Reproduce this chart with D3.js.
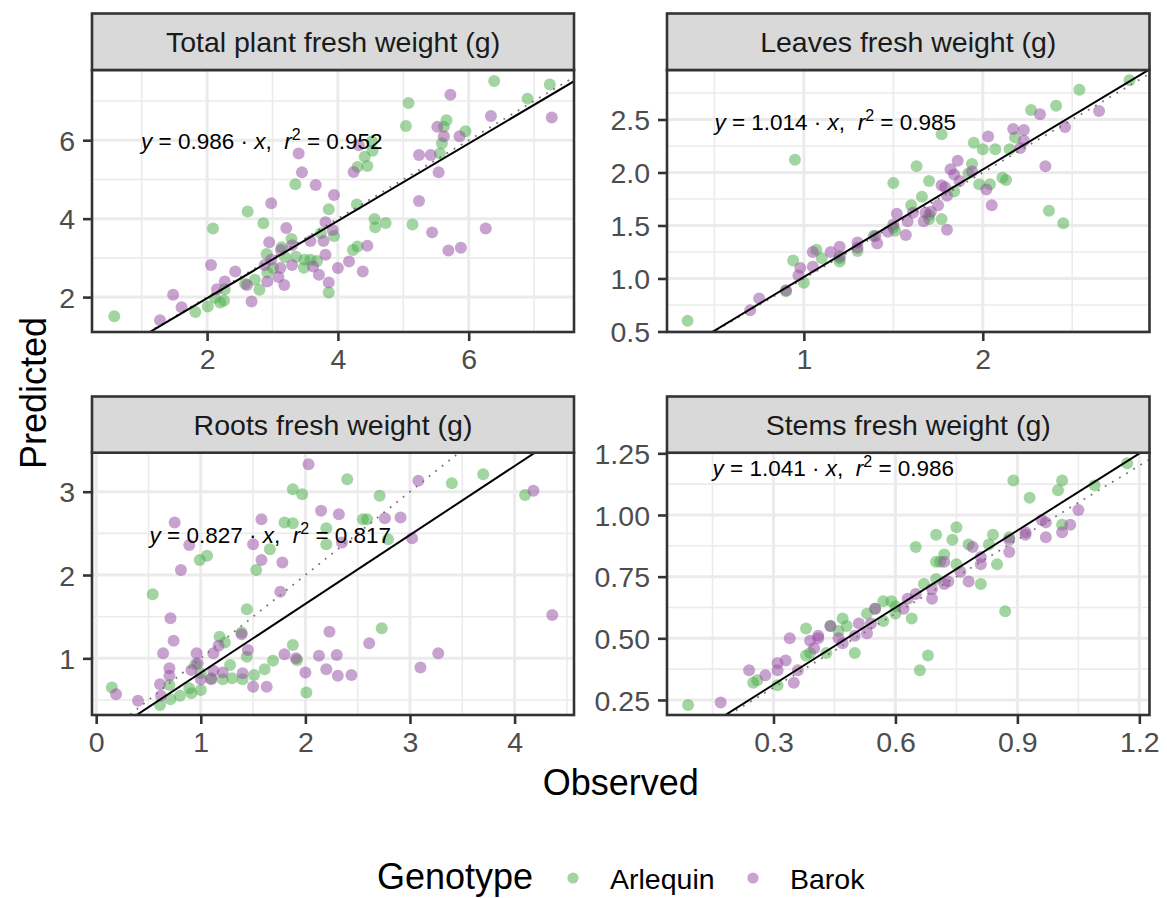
<!DOCTYPE html>
<html><head><meta charset="utf-8">
<script src="https://cdn.jsdelivr.net/npm/d3@7"></script>
<style>
body{margin:0;background:#fff}
svg{display:block}
text{font-family:"Liberation Sans",Arial,Helvetica,sans-serif}
</style>
</head><body>
<svg id="chart" width="1167" height="898"></svg>
<script>
// ---------------- data ----------------
const panelTitles = ["Total plant fresh weight (g)", "Leaves fresh weight (g)", "Roots fresh weight (g)", "Stems fresh weight (g)"];
const genotypes = ["Arlequin", "Barok"];
const slopes = [0.986, 1.014, 0.827, 1.041];
const rSquared = [0.952, 0.985, 0.817, 0.986];

// [observed, predicted]
const totalArlequin = [[0.58,1.51],[6.39,7.51],[6.90,7.06],[7.24,7.42],[5.08,6.95],[5.04,6.36],[5.66,6.51],[5.62,6.34],[5.95,6.23],[5.59,5.92],[5.56,5.66],[4.52,5.97],[4.41,5.58],[4.53,5.73],[4.30,5.32],[4.45,5.34],[3.35,4.88],[2.62,4.18],[2.86,3.88],[2.09,3.75],[3.86,4.24],[4.29,4.36],[4.56,3.99],[4.57,3.78],[4.73,3.89],[5.14,3.85],[3.94,3.56],[3.74,3.63],[3.29,3.48],[3.14,3.27],[2.91,3.10],[3.19,3.02],[3.36,3.03],[3.49,2.95],[3.58,2.95],[3.68,2.92],[3.48,2.75],[4.23,3.20],[4.30,3.29],[3.86,2.12],[2.73,2.44],[2.80,2.19],[2.92,2.63],[2.27,2.20],[2.12,1.98],[2.20,1.86],[2.26,1.91],[2.01,1.76],[1.82,1.62],[2.58,2.34],[3.01,2.74]];
const totalBarok = [[5.72,7.16],[6.34,6.62],[5.52,6.34],[5.62,6.10],[5.86,6.10],[4.32,5.87],[5.24,5.62],[5.42,5.62],[5.54,5.18],[3.40,5.66],[3.45,5.18],[4.24,5.19],[3.66,4.86],[3.94,4.60],[5.24,4.45],[2.98,4.39],[5.44,3.65],[6.26,3.75],[5.69,3.19],[5.88,3.26],[3.21,3.76],[3.81,3.91],[3.92,3.71],[3.58,3.43],[3.78,3.43],[2.95,3.40],[3.30,3.32],[4.45,3.31],[3.81,3.08],[4.17,2.91],[4.00,2.74],[4.38,2.65],[3.13,3.20],[2.98,2.95],[2.88,2.82],[3.12,2.74],[3.30,2.82],[3.62,2.78],[3.71,2.57],[3.09,2.51],[2.92,2.40],[3.18,2.31],[3.86,2.37],[2.61,2.31],[2.43,2.65],[2.27,2.40],[2.15,2.20],[2.06,2.82],[2.68,1.89],[1.48,2.06],[1.61,1.74],[1.28,1.41],[7.27,6.58]];

const leavesArlequin = [[0.35,0.60],[0.95,2.12],[1.77,2.36],[2.54,2.78],[2.82,2.87],[2.27,2.59],[2.41,2.63],[1.95,2.28],[2.00,2.22],[2.07,2.22],[2.15,2.22],[2.18,2.33],[1.63,2.06],[1.94,2.08],[1.92,1.99],[1.50,1.90],[1.70,1.92],[1.98,1.89],[2.04,1.89],[2.11,1.95],[2.13,1.93],[1.84,1.82],[1.66,1.77],[1.60,1.69],[1.77,1.56],[2.37,1.64],[2.45,1.52],[1.50,1.48],[1.51,1.45],[1.39,1.40],[1.30,1.26],[1.20,1.16],[1.20,1.19],[1.10,1.19],[1.07,1.27],[0.94,1.17],[1.00,0.96],[0.90,0.88],[1.70,1.56],[1.70,1.60]];
const leavesBarok = [[2.32,2.55],[2.65,2.58],[2.46,2.43],[2.03,2.34],[2.17,2.41],[2.23,2.40],[2.21,2.23],[2.23,2.30],[1.86,2.11],[1.82,2.03],[1.84,1.98],[1.94,2.01],[1.87,1.92],[1.77,1.88],[1.79,1.86],[1.80,1.78],[2.02,1.84],[2.05,1.69],[2.35,2.06],[1.75,1.69],[1.71,1.63],[1.68,1.62],[1.67,1.54],[1.80,1.46],[1.58,1.54],[1.52,1.61],[1.50,1.51],[1.47,1.44],[1.57,1.41],[1.61,1.62],[1.40,1.40],[1.41,1.33],[1.30,1.34],[1.30,1.29],[1.20,1.30],[1.20,1.21],[1.15,1.25],[1.05,1.25],[1.05,1.11],[0.98,1.10],[0.97,1.03],[0.90,0.89],[0.75,0.81],[0.70,0.70]];

const rootsArlequin = [[0.15,0.65],[0.54,1.77],[0.99,2.18],[1.06,2.23],[1.53,2.06],[1.66,2.31],[1.80,2.63],[1.88,2.62],[1.88,3.03],[1.97,2.97],[2.40,3.15],[2.20,2.56],[2.20,2.37],[2.55,2.67],[2.59,2.67],[2.71,2.95],[2.79,2.43],[3.40,3.10],[3.70,3.21],[4.10,2.96],[1.44,1.59],[1.39,1.31],[1.18,1.26],[1.23,1.19],[1.44,1.02],[1.88,1.16],[1.92,0.98],[1.69,0.97],[2.73,1.36],[2.01,0.59],[1.61,0.87],[1.51,0.80],[1.40,0.75],[1.30,0.76],[1.28,0.92],[1.21,0.75],[1.00,0.82],[1.00,0.62],[0.89,0.64],[0.80,0.55],[0.71,0.51],[0.61,0.44],[0.70,0.68],[0.95,0.93],[1.10,0.76],[0.91,0.58]];
const rootsBarok = [[2.03,3.33],[3.08,3.13],[4.18,3.01],[4.36,1.52],[0.75,2.63],[0.89,2.36],[0.81,2.06],[1.58,2.67],[1.50,2.37],[1.58,2.18],[1.78,2.15],[1.76,1.80],[2.15,2.77],[2.32,2.73],[2.35,2.39],[2.76,2.68],[2.91,2.69],[3.02,2.44],[0.71,1.48],[0.74,1.21],[0.64,1.06],[0.96,1.06],[1.12,1.06],[1.17,1.15],[1.39,1.29],[1.45,1.10],[2.23,1.32],[1.80,1.05],[1.91,1.00],[2.13,1.03],[2.30,1.04],[2.61,1.18],[3.27,1.06],[3.10,0.89],[2.00,0.83],[2.20,0.87],[2.31,0.79],[2.44,0.80],[1.63,0.66],[1.50,0.66],[1.40,0.82],[1.21,0.83],[1.12,0.85],[1.10,0.75],[1.00,0.75],[0.91,0.86],[0.97,0.94],[0.70,0.79],[0.70,0.88],[0.61,0.69],[0.62,0.55],[0.19,0.57],[0.40,0.49]];

const stemsArlequin = [[0.09,0.23],[0.25,0.32],[0.26,0.33],[0.31,0.31],[0.38,0.54],[0.38,0.43],[0.39,0.44],[0.43,0.44],[0.44,0.55],[0.47,0.58],[0.46,0.53],[0.48,0.55],[0.50,0.44],[0.53,0.60],[0.57,0.65],[0.57,0.57],[0.59,0.65],[0.60,0.60],[0.64,0.58],[0.55,0.62],[0.67,0.72],[0.70,0.74],[0.70,0.81],[0.71,0.81],[0.72,0.84],[0.65,0.87],[0.70,0.92],[0.75,0.95],[0.74,0.90],[0.75,0.80],[0.78,0.88],[0.81,0.72],[0.83,0.88],[0.84,0.92],[0.85,0.80],[0.87,0.61],[0.88,0.91],[0.89,1.14],[0.93,1.07],[1.00,1.10],[1.01,1.14],[1.09,1.12],[1.01,0.96],[1.17,1.21],[0.68,0.43],[0.66,0.37],[0.60,0.63]];
const stemsBarok = [[0.17,0.24],[0.24,0.37],[0.28,0.35],[0.31,0.40],[0.33,0.41],[0.31,0.37],[0.35,0.32],[0.34,0.50],[0.36,0.37],[0.39,0.49],[0.41,0.51],[0.41,0.50],[0.40,0.46],[0.44,0.55],[0.46,0.50],[0.47,0.48],[0.51,0.56],[0.50,0.51],[0.53,0.52],[0.54,0.56],[0.55,0.62],[0.63,0.66],[0.62,0.62],[0.65,0.68],[0.69,0.66],[0.69,0.70],[0.72,0.72],[0.73,0.73],[0.72,0.81],[0.76,0.77],[0.78,0.73],[0.79,0.87],[0.81,0.83],[0.81,0.80],[0.88,0.85],[0.88,0.90],[0.92,0.92],[0.92,0.93],[0.96,0.98],[0.97,0.97],[0.97,0.91],[1.01,0.93],[1.03,0.96],[1.05,1.02]];

// tick values
const totalXTicks = [2, 4, 6],          totalYTicks = [2, 4, 6];
const leavesXTicks = [1, 2],            leavesYTicks = [0.5, 1.0, 1.5, 2.0, 2.5];
const rootsXTicks = [0, 1, 2, 3, 4],    rootsYTicks = [1, 2, 3];
const stemsXTicks = [0.3, 0.6, 0.9, 1.2], stemsYTicks = [0.25, 0.50, 0.75, 1.00, 1.25];

// ---------------- layout / style ----------------
const colors = {Arlequin: "#4DAF4A", Barok: "#984EA3"};
const cols = [{x0: 92, x1: 574}, {x0: 667, x1: 1149.5}];
const rows = [{s0: 13.5, y0: 70, y1: 332}, {s0: 396.5, y0: 452.7, y1: 715}];

const panels = [
  {title: panelTitles[0], arl: totalArlequin, bar: totalBarok, xDom: [0.24, 7.61], yDom: [1.11, 7.79],
   xT: totalXTicks, yT: totalYTicks, xf: d3.format("d"), yf: d3.format("d"), slope: slopes[0], r2: rSquared[0], lab: [0.99, 5.97], c: 0, r: 0},
  {title: panelTitles[1], arl: leavesArlequin, bar: leavesBarok, xDom: [0.235, 2.932], yDom: [0.495, 2.967],
   xT: leavesXTicks, yT: leavesYTicks, xf: d3.format("d"), yf: d3.format(".1f"), slope: slopes[1], r2: rSquared[1], lab: [0.5, 2.48], c: 1, r: 0},
  {title: panelTitles[2], arl: rootsArlequin, bar: rootsBarok, xDom: [-0.04, 4.568], yDom: [0.32, 3.468],
   xT: rootsXTicks, yT: rootsYTicks, xf: d3.format("d"), yf: d3.format("d"), slope: slopes[2], r2: rSquared[2], lab: [0.51, 2.48], c: 0, r: 1},
  {title: panelTitles[3], arl: stemsArlequin, bar: stemsBarok, xDom: [0.038, 1.225], yDom: [0.189, 1.2525],
   xT: stemsXTicks, yT: stemsYTicks, xf: d3.format(".1f"), yf: d3.format(".2f"), slope: slopes[3], r2: rSquared[3], lab: [0.15, 1.19], c: 1, r: 1}
];

const svg = d3.select("#chart");
const TICK = 9, STROKE = "#333333";

function minors(ticks, dom) {
  const step = ticks[1] - ticks[0];
  const out = [];
  const all = [ticks[0] - step, ...ticks, ticks[ticks.length - 1] + step];
  for (let i = 0; i < all.length - 1; i++) {
    const m = (all[i] + all[i + 1]) / 2;
    if (m > dom[0] && m < dom[1]) out.push(m);
  }
  return out;
}

panels.forEach((p, i) => {
  const C = cols[p.c], R = rows[p.r];
  const x = d3.scaleLinear().domain(p.xDom).range([C.x0, C.x1]);
  const y = d3.scaleLinear().domain(p.yDom).range([R.y1, R.y0]);
  const g = svg.append("g");

  const cid = "clip" + i;
  svg.append("clipPath").attr("id", cid).append("rect")
    .attr("x", C.x0).attr("y", R.y0).attr("width", C.x1 - C.x0).attr("height", R.y1 - R.y0);

  g.append("rect").attr("x", C.x0).attr("y", R.y0).attr("width", C.x1 - C.x0).attr("height", R.y1 - R.y0).attr("fill", "#fff");

  const grid = g.append("g").attr("stroke", "#EBEBEB");
  grid.selectAll(".mx").data(minors(p.xT, p.xDom)).join("line")
    .attr("x1", d => x(d)).attr("x2", d => x(d)).attr("y1", R.y0).attr("y2", R.y1).attr("stroke-width", 1.6);
  grid.selectAll(".my").data(minors(p.yT, p.yDom)).join("line")
    .attr("y1", d => y(d)).attr("y2", d => y(d)).attr("x1", C.x0).attr("x2", C.x1).attr("stroke-width", 1.6);
  grid.selectAll(".Mx").data(p.xT).join("line")
    .attr("x1", d => x(d)).attr("x2", d => x(d)).attr("y1", R.y0).attr("y2", R.y1).attr("stroke-width", 3);
  grid.selectAll(".My").data(p.yT).join("line")
    .attr("y1", d => y(d)).attr("y2", d => y(d)).attr("x1", C.x0).attr("x2", C.x1).attr("stroke-width", 3);

  const pts = g.append("g").attr("clip-path", `url(#${cid})`);
  [["Arlequin", p.arl], ["Barok", p.bar]].forEach(([gen, arr]) => {
    pts.selectAll(null).data(arr).join("circle")
      .attr("cx", d => x(d[0])).attr("cy", d => y(d[1])).attr("r", 6)
      .attr("fill", colors[gen]).attr("fill-opacity", 0.52);
  });

  const lines = g.append("g").attr("clip-path", `url(#${cid})`);
  const xs = [p.xDom[0] - 1, p.xDom[1] + 1];
  lines.append("line")
    .attr("x1", x(xs[0])).attr("y1", y(xs[0])).attr("x2", x(xs[1])).attr("y2", y(xs[1]))
    .attr("stroke", "#777").attr("stroke-width", 1.8).attr("stroke-dasharray", "1.8 6.5");
  lines.append("line")
    .attr("x1", x(xs[0])).attr("y1", y(p.slope * xs[0])).attr("x2", x(xs[1])).attr("y2", y(p.slope * xs[1]))
    .attr("stroke", "#000").attr("stroke-width", 2);

  const t = g.append("text").attr("x", x(p.lab[0])).attr("y", y(p.lab[1])).attr("dy", "0.36em")
    .attr("font-size", 22.5).attr("fill", "#000").style("white-space", "pre");
  t.append("tspan").attr("font-style", "italic").text("y");
  t.append("tspan").text(" = " + p.slope.toFixed(3) + " \u00B7 ");
  t.append("tspan").attr("font-style", "italic").text("x");
  t.append("tspan").text(",  ");
  t.append("tspan").attr("font-style", "italic").text("r");
  t.append("tspan").attr("font-size", 16).attr("dy", -9).text("2");
  t.append("tspan").attr("dy", 9).text(" = " + p.r2.toFixed(3));

  g.append("rect").attr("x", C.x0).attr("y", R.y0).attr("width", C.x1 - C.x0).attr("height", R.y1 - R.y0)
    .attr("fill", "none").attr("stroke", STROKE).attr("stroke-width", 2.6);

  g.append("rect").attr("x", C.x0).attr("y", R.s0).attr("width", C.x1 - C.x0).attr("height", R.y0 - R.s0)
    .attr("fill", "#D9D9D9").attr("stroke", STROKE).attr("stroke-width", 2.6);
  g.append("text").attr("x", (C.x0 + C.x1) / 2).attr("y", (R.s0 + R.y0) / 2).attr("dy", "0.36em")
    .attr("text-anchor", "middle").attr("font-size", 28.5).attr("fill", "#1A1A1A").text(p.title);

  const xa = g.append("g").attr("transform", `translate(0,${R.y1})`)
    .call(d3.axisBottom(x).tickValues(p.xT).tickFormat(p.xf).tickSize(TICK).tickPadding(7));
  const ya = g.append("g").attr("transform", `translate(${C.x0},0)`)
    .call(d3.axisLeft(y).tickValues(p.yT).tickFormat(p.yf).tickSize(TICK).tickPadding(8));
  [xa, ya].forEach(a => {
    a.select(".domain").remove();
    a.selectAll(".tick line").attr("stroke", STROKE).attr("stroke-width", 2.6);
    a.selectAll(".tick text").attr("fill", "#4D4D4D").attr("font-size", 28.5)
      .attr("font-family", '"Liberation Sans",Arial,sans-serif');
  });
  xa.selectAll(".tick text").attr("dy", "0.75em");
  ya.selectAll(".tick text").attr("dy", "0.36em");
});

svg.append("text").attr("x", 620.75).attr("y", 795).attr("text-anchor", "middle")
  .attr("font-size", 36).attr("fill", "#000").text("Observed");
svg.append("text").attr("transform", "translate(46,393) rotate(-90)").attr("text-anchor", "middle")
  .attr("font-size", 36).attr("fill", "#000").text("Predicted");

const leg = svg.append("g");
leg.append("text").attr("x", 377).attr("y", 889).attr("font-size", 36).attr("fill", "#000").text("Genotype");
const legX = [573, 753];
genotypes.forEach((gname, i) => {
  leg.append("circle").attr("cx", legX[i]).attr("cy", 878).attr("r", 5.6)
    .attr("fill", colors[gname]).attr("fill-opacity", 0.52);
  leg.append("text").attr("x", legX[i] + 37).attr("y", 889)
    .attr("font-size", 28.5).attr("fill", "#000").text(gname);
});
</script>
</body></html>
